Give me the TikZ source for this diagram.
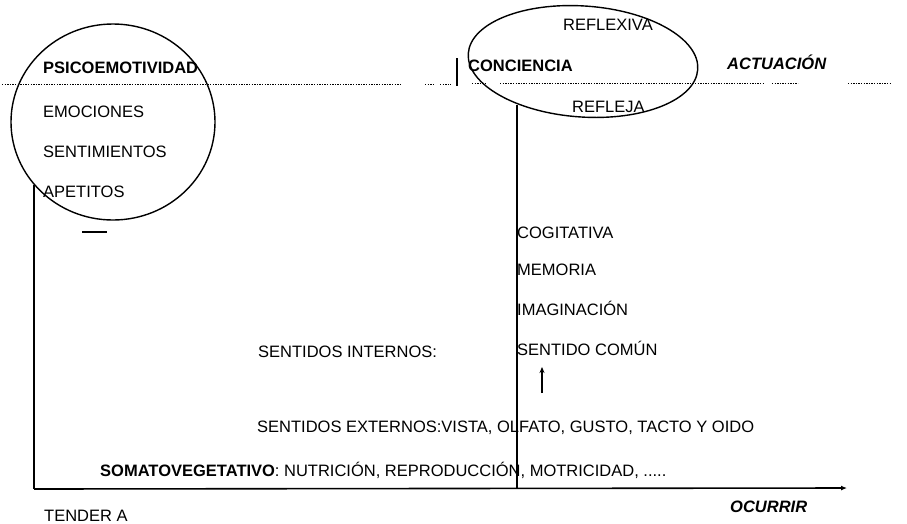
\documentclass[tikz,border=0pt]{standalone}
\usepackage{fontspec}
\setmainfont{Liberation Sans}
\usetikzlibrary{shapes.geometric,arrows.meta}
\begin{document}
\begin{tikzpicture}[x=1pt,y=-1pt,
  lbl/.style={anchor=base west,inner sep=0pt,font=\fontsize{16.5}{19}\selectfont},
  blbl/.style={anchor=base west,inner sep=0pt,font=\fontsize{16.5}{19}\selectfont\bfseries},
  bilbl/.style={anchor=base west,inner sep=0pt,font=\fontsize{16.5}{19}\selectfont\bfseries\itshape},
  axisline/.style={line width=1.6pt},
  ring/.style={draw,ellipse,line width=1.4pt,inner sep=0pt},
  dotline/.style={dash pattern=on 1.3pt off 1.3pt,line width=0.9pt}
]
\useasboundingbox (0,0) rectangle (907,523);

% circles
\node[ring,minimum width=204pt,minimum height=196pt] (psiring) at (113,122) {};
\node[ring,minimum width=230pt,minimum height=111pt,rotate=-4] (conring) at (583,61.5) {};

% dotted level line
\coordinate (d0) at (2,84);
\coordinate (d1) at (400,84);
\coordinate (d2) at (425,84);
\coordinate (d3) at (433,84);
\coordinate (d4) at (440,84);
\coordinate (d5) at (451,84);
\coordinate (d6) at (472,83);
\coordinate (d7) at (487,83);
\coordinate (d8) at (500,83);
\coordinate (d9) at (765,83);
\coordinate (d10) at (772,83);
\coordinate (d11) at (798,83);
\coordinate (d12) at (848,83);
\coordinate (d13) at (890,83);
\draw[dotline] (d0) -- (d1) (d2) -- (d3) (d4) -- (d5) (d6) -- (d7) (d8) -- (d9) (d10) -- (d11) (d12) -- (d13);

% small bar before CONCIENCIA
\coordinate (bartop) at (457,58);
\coordinate (barbot) at (457,86);
\draw[line width=1.3pt] (bartop) -- (barbot);

% texts top-left
\node[blbl] (psico) at (43,73) {PSICOEMOTIVIDAD};
\node[lbl] (emo) at (43,117) {EMOCIONES};
\node[lbl] (senti) at (43,157) {SENTIMIENTOS};
\node[lbl] (apet) at (43,197) {APETITOS};

% dash
\coordinate (dashL) at (82,232);
\coordinate (dashR) at (107,232);
\draw[line width=1.5pt] (dashL) -- (dashR);

% texts top-right
\node[lbl] (reflexiva) at (563,30) {REFLEXIVA};
\node[blbl] (conciencia) at (468,71) {CONCIENCIA};
\node[bilbl] (actuacion) at (727,69) {ACTUACIÓN};
\node[lbl] (refleja) at (572,112) {REFLEJA};

% axes
\coordinate (leftTop) at (34,185);
\coordinate (origin) at (34,489);
\coordinate (axisEnd) at (847,488);
\coordinate (midTop) at (517,105);
\coordinate (midBot) at (517,489);
\draw[axisline] (leftTop) -- (origin);
\draw[axisline,-{Latex[length=6pt,width=5pt]}] (origin) -- (axisEnd);
\draw[axisline] (midTop) -- (midBot);

% internal senses
\node[lbl] (cogit) at (517,238) {COGITATIVA};
\node[lbl] (memo) at (517,275) {MEMORIA};
\node[lbl] (imag) at (517,315) {IMAGINACIÓN};
\node[lbl] (comun) at (517,355) {SENTIDO COMÚN};
\node[lbl] (internos) at (258,357) {SENTIDOS INTERNOS:};

% small up arrow
\coordinate (upBot) at (542,393);
\coordinate (upTop) at (542,367);
\draw[line width=1.4pt,-{Stealth[length=6pt,width=5pt]}] (upBot) -- (upTop);

% bottom texts
\node[lbl] (externos) at (257,432) {SENTIDOS EXTERNOS:VISTA, OLFATO, GUSTO, TACTO Y OIDO};
\node[lbl] (somato) at (100,476) {\textbf{SOMATOVEGETATIVO}: NUTRICIÓN, REPRODUCCIÓN, MOTRICIDAD, .....};
\node[lbl] (tender) at (44,521) {TENDER A};
\node[bilbl] (ocurrir) at (730,512) {OCURRIR};
\end{tikzpicture}
\end{document}
